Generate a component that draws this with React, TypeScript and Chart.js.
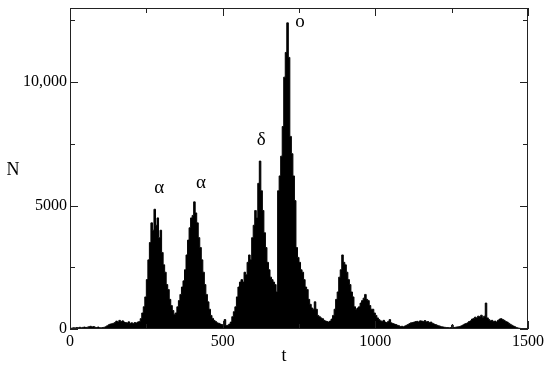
import { useEffect, useRef } from 'react';
import { Chart, registerables } from 'chart.js';

Chart.register(...registerables);

// Histogram of N over t, bins of 5 time units
const BIN_WIDTH = 5;

// t = 0 .. 495
const countsA = [
  20, 40, 50, 45, 60, 55, 70, 50, 65, 80, 60, 75, 90, 110, 85, 100, 70, 60, 80, 55,
  50, 60, 70, 90, 130, 170, 200, 210, 230, 260, 320, 280, 350, 300, 330, 280, 260, 240, 290, 230,
  250, 220, 260, 240, 280, 300, 420, 650, 900, 1300, 2000, 2800, 3500, 4300, 4000, 4850, 4200, 4500, 3700, 4000,
  3100, 2600, 2300, 1800, 1600, 1200, 950, 750, 600, 650, 900, 1150, 1400, 1700, 1950, 2400, 3000, 3600, 4100, 4500,
  4600, 5150, 4700, 4300, 3700, 3300, 2800, 2300, 1800, 1400, 1100, 800, 550, 430, 350, 300, 250, 230, 200, 180,
];
// t = 500 .. 995
const countsB = [
  150, 380, 140, 150, 200, 280, 500, 700, 900, 1300, 1700, 1900, 2000, 1900, 2300, 2200, 2700, 3000, 2800, 3700,
  4200, 4800, 4500, 5900, 6800, 5600, 4800, 3900, 3300, 2700, 2400, 2100, 2000, 1900, 1800, 1500, 5600, 6200, 7000, 8200,
  10200, 11200, 12400, 11000, 7800, 7100, 6200, 5200, 3300, 2900, 2700, 2400, 2300, 2000, 1700, 1600, 1200, 1000, 850, 800,
  1100, 800, 550, 500, 450, 420, 350, 320, 300, 280, 320, 400, 550, 800, 1200, 1500, 2100, 2400, 3000, 2700,
  2600, 2300, 2000, 1800, 1500, 1300, 900, 800, 850, 900, 1050, 1150, 1250, 1400, 1200, 1150, 950, 800, 800, 650,
];
// t = 1000 .. 1495
const countsC = [
  550, 450, 380, 330, 300, 350, 280, 260, 300, 380, 250, 220, 200, 180, 150, 130, 100, 110, 90, 120,
  150, 180, 220, 250, 260, 280, 300, 310, 280, 330, 320, 300, 340, 290, 300, 260, 280, 230, 200, 180,
  150, 130, 110, 90, 80, 70, 60, 60, 50, 60, 160, 60, 70, 80, 90, 100, 130, 160, 200, 220,
  250, 300, 330, 400, 430, 480, 450, 520, 500, 560, 480, 520, 1050, 450, 380, 330, 350, 300, 320, 280,
  350, 400, 420, 380, 350, 300, 280, 230, 190, 150, 120, 90, 60, 40, 30, 20, 15, 10, 5, 5,
];

const xMajorTicks = [0, 500, 1000, 1500];
const xTickLabels = ['0', '500', '1000', '1500'];
const xMinorTicks = [250, 750, 1250];
const yMajorTicks = [0, 5000, 10000];
const yTickLabels = ['0', '5000', '10,000'];
const yMinorTicks = [2500, 7500, 12500];

const peakLabels = ['α', 'α', 'δ', 'o'];
const peakLabelT = [292, 429, 626, 753];
const peakLabelN = [5700, 5900, 7650, 12420];

const FONT = "'Liberation Serif', 'Times New Roman', serif";

export default function App() {
  const canvasRef = useRef<HTMLCanvasElement | null>(null);

  useEffect(() => {
    const counts = [...countsA, ...countsB, ...countsC];
    const points = counts.map((n, i) => ({ x: i * BIN_WIDTH + BIN_WIDTH / 2, y: n }));

    const framePlugin = {
      id: 'frameTicks',
      afterDraw(chart: any) {
        const { ctx, chartArea } = chart;
        const { left, right, top, bottom } = chartArea;
        const xs = chart.scales.x;
        const ys = chart.scales.y;
        ctx.save();
        ctx.strokeStyle = '#222';
        ctx.lineWidth = 1;
        ctx.strokeRect(left + 0.5, top + 0.5, right - left - 1, bottom - top - 1);
        ctx.beginPath();
        const major = 8;
        const minor = 5;
        const xTick = (v: number, len: number) => {
          const px = Math.round(xs.getPixelForValue(v)) + 0.5;
          ctx.moveTo(px, bottom);
          ctx.lineTo(px, bottom - len);
          ctx.moveTo(px, top);
          ctx.lineTo(px, top + len);
        };
        const yTick = (v: number, len: number) => {
          const py = Math.round(ys.getPixelForValue(v)) + 0.5;
          ctx.moveTo(left, py);
          ctx.lineTo(left + len, py);
          ctx.moveTo(right, py);
          ctx.lineTo(right - len, py);
        };
        xMajorTicks.forEach((v) => xTick(v, major));
        xMinorTicks.forEach((v) => xTick(v, minor));
        yMajorTicks.forEach((v) => yTick(v, major));
        yMinorTicks.forEach((v) => yTick(v, minor));
        ctx.stroke();

        ctx.fillStyle = '#000';
        ctx.textAlign = 'center';
        ctx.textBaseline = 'middle';
        ctx.font = `19px ${FONT}`;
        peakLabels.forEach((lab, i) => {
          ctx.fillText(lab, xs.getPixelForValue(peakLabelT[i]), ys.getPixelForValue(peakLabelN[i]));
        });
        ctx.font = `18px ${FONT}`;
        ctx.fillText('N', left - 57, (top + bottom) / 2 + 2);
        ctx.fillText('t', (left + right) / 2 - 15, bottom + 27);
        ctx.restore();
      },
    };

    const chart = new Chart(canvasRef.current as HTMLCanvasElement, {
      type: 'line',
      data: {
        datasets: [
          {
            data: points as any,
            backgroundColor: '#000',
            borderColor: '#000',
            borderWidth: 1,
            fill: 'origin',
            stepped: 'middle',
            pointRadius: 0,
            tension: 0,
          },
        ],
      },
      options: {
        responsive: false,
        animation: false,
        layout: { padding: { top: 8, right: 22, left: 0, bottom: 0 } },
        plugins: { legend: { display: false }, tooltip: { enabled: false } },
        scales: {
          x: {
            type: 'linear',
            min: 0,
            max: 1500,
            offset: false,
            grid: { display: false, drawTicks: false },
            border: { display: false },
            ticks: {
              color: '#000',
              font: { family: FONT, size: 16, lineHeight: 1 },
              padding: 5,
              maxRotation: 0,
              callback: (v: any) => {
                const i = xMajorTicks.indexOf(Number(v));
                return i >= 0 ? xTickLabels[i] : '';
              },
            },
            afterBuildTicks: (s: any) => {
              s.ticks = xMajorTicks.map((v) => ({ value: v }));
            },
            afterFit: (s: any) => {
              s.height = 40;
              s.paddingLeft = 0;
              s.paddingRight = 0;
            },
          },
          y: {
            type: 'linear',
            min: 0,
            max: 13000,
            grid: { display: false, drawTicks: false },
            border: { display: false },
            ticks: {
              color: '#000',
              font: { family: FONT, size: 16, lineHeight: 1 },
              padding: 3,
              callback: (v: any) => {
                const i = yMajorTicks.indexOf(Number(v));
                return i >= 0 ? yTickLabels[i] : '';
              },
            },
            afterBuildTicks: (s: any) => {
              s.ticks = yMajorTicks.map((v) => ({ value: v }));
            },
            afterFit: (s: any) => {
              s.width = 70;
              s.paddingTop = 0;
              s.paddingBottom = 0;
            },
          },
        },
      },
      plugins: [framePlugin],
    });
    return () => chart.destroy();
  }, []);

  return (
    <div style={{ position: 'fixed', left: 0, top: 0, width: 550, height: 369, background: '#fff' }}>
      <canvas ref={canvasRef} width={550} height={369} style={{ display: 'block' }} />
    </div>
  );
}
